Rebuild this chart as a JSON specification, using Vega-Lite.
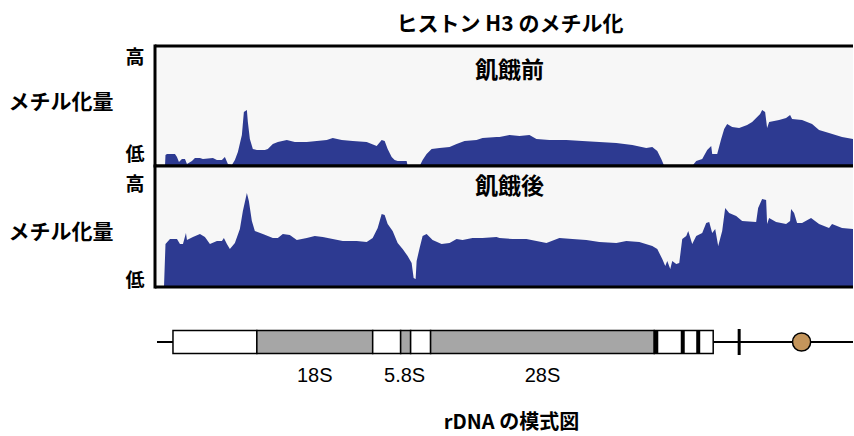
{
  "$schema": "https://vega.github.io/schema/vega-lite/v6.json",
  "background": "white",
  "padding": {"left": 8, "top": 13, "right": 0, "bottom": 6},
  "spacing": 0,
  "bounds": "flush",
  "config": {"view": {"stroke": null}},
  "title": {"text": "ヒストン H3 のメチル化", "font": "Noto Sans CJK JP", "fontSize": 21, "fontWeight": "bold", "color": "black", "anchor": "middle", "frame": "group", "offset": 9, "dx": 6},
  "datasets": {
    "before": [
      {"pos":10,"h":0},{"pos":10.5,"h":11},{"pos":12,"h":12},{"pos":20,"h":12},{"pos":22,"h":9},{"pos":24,"h":4},{"pos":27,"h":7},{"pos":30,"h":7},{"pos":32,"h":2},{"pos":37,"h":5},{"pos":40,"h":8},{"pos":45,"h":8},{"pos":48,"h":7},{"pos":58,"h":8},{"pos":62,"h":6},{"pos":67,"h":6},{"pos":70,"h":9},{"pos":73,"h":2},{"pos":77,"h":1},{"pos":80,"h":6},{"pos":83,"h":14},{"pos":87,"h":31},{"pos":89,"h":54},{"pos":92,"h":56},{"pos":93,"h":44},{"pos":95,"h":27},{"pos":98,"h":17},{"pos":102,"h":16},{"pos":110,"h":16},{"pos":113,"h":17},{"pos":118,"h":22},{"pos":123,"h":24},{"pos":132,"h":26},{"pos":140,"h":24},{"pos":152,"h":24},{"pos":162,"h":25},{"pos":172,"h":26},{"pos":178,"h":28},{"pos":187,"h":26},{"pos":198,"h":25},{"pos":212,"h":24},{"pos":222,"h":20},{"pos":227,"h":26},{"pos":230,"h":25},{"pos":233,"h":17},{"pos":237,"h":9},{"pos":240,"h":6},{"pos":243,"h":5},{"pos":252,"h":5},{"pos":253,"h":0},{"pos":265,"h":0},{"pos":268,"h":6},{"pos":272,"h":12},{"pos":277,"h":17},{"pos":285,"h":18},{"pos":295,"h":19},{"pos":302,"h":22},{"pos":310,"h":25},{"pos":322,"h":26},{"pos":328,"h":28},{"pos":342,"h":29},{"pos":345,"h":29},{"pos":355,"h":31},{"pos":365,"h":30},{"pos":375,"h":31},{"pos":382,"h":27},{"pos":395,"h":26},{"pos":412,"h":26},{"pos":428,"h":25},{"pos":445,"h":24},{"pos":462,"h":23},{"pos":478,"h":21},{"pos":492,"h":18},{"pos":498,"h":19},{"pos":503,"h":15},{"pos":507,"h":7},{"pos":510,"h":0},{"pos":538,"h":0},{"pos":542,"h":5},{"pos":548,"h":7},{"pos":553,"h":16},{"pos":557,"h":20},{"pos":558,"h":12},{"pos":563,"h":12},{"pos":567,"h":27},{"pos":570,"h":37},{"pos":573,"h":42},{"pos":578,"h":39},{"pos":585,"h":38},{"pos":593,"h":41},{"pos":598,"h":44},{"pos":603,"h":49},{"pos":606,"h":52},{"pos":608,"h":56},{"pos":611,"h":54},{"pos":613,"h":38},{"pos":615,"h":44},{"pos":625,"h":46},{"pos":632,"h":48},{"pos":636,"h":51},{"pos":638,"h":47},{"pos":648,"h":46},{"pos":658,"h":42},{"pos":665,"h":36},{"pos":675,"h":33},{"pos":688,"h":29},{"pos":699,"h":27}
    ],
    "after": [
      {"pos":9,"h":0},{"pos":10.5,"h":43},{"pos":15,"h":48},{"pos":22,"h":48},{"pos":25,"h":43},{"pos":28,"h":43},{"pos":31,"h":54},{"pos":32,"h":47},{"pos":38,"h":50},{"pos":45,"h":53},{"pos":50,"h":50},{"pos":55,"h":43},{"pos":62,"h":46},{"pos":67,"h":46},{"pos":69,"h":49},{"pos":72,"h":43},{"pos":75,"h":38},{"pos":80,"h":44},{"pos":85,"h":58},{"pos":88,"h":76},{"pos":92,"h":94},{"pos":94,"h":86},{"pos":97,"h":66},{"pos":100,"h":56},{"pos":108,"h":53},{"pos":118,"h":49},{"pos":123,"h":49},{"pos":128,"h":53},{"pos":135,"h":52},{"pos":142,"h":47},{"pos":152,"h":49},{"pos":160,"h":51},{"pos":168,"h":50},{"pos":178,"h":48},{"pos":188,"h":46},{"pos":202,"h":46},{"pos":212,"h":45},{"pos":218,"h":49},{"pos":223,"h":59},{"pos":227,"h":73},{"pos":230,"h":72},{"pos":233,"h":63},{"pos":238,"h":56},{"pos":243,"h":44},{"pos":248,"h":38},{"pos":253,"h":31},{"pos":257,"h":24},{"pos":259,"h":9},{"pos":261,"h":8},{"pos":262,"h":26},{"pos":265,"h":39},{"pos":268,"h":51},{"pos":272,"h":53},{"pos":278,"h":47},{"pos":287,"h":43},{"pos":295,"h":44},{"pos":302,"h":48},{"pos":308,"h":47},{"pos":318,"h":49},{"pos":328,"h":49},{"pos":342,"h":50},{"pos":345,"h":49},{"pos":358,"h":48},{"pos":372,"h":48},{"pos":382,"h":46},{"pos":392,"h":44},{"pos":405,"h":49},{"pos":418,"h":48},{"pos":432,"h":47},{"pos":445,"h":45},{"pos":462,"h":44},{"pos":472,"h":46},{"pos":485,"h":45},{"pos":498,"h":41},{"pos":503,"h":38},{"pos":508,"h":28},{"pos":511,"h":21},{"pos":513,"h":26},{"pos":516,"h":18},{"pos":518,"h":26},{"pos":522,"h":23},{"pos":525,"h":24},{"pos":528,"h":48},{"pos":532,"h":51},{"pos":534,"h":56},{"pos":538,"h":43},{"pos":542,"h":51},{"pos":548,"h":54},{"pos":552,"h":64},{"pos":555,"h":65},{"pos":558,"h":54},{"pos":561,"h":58},{"pos":564,"h":41},{"pos":568,"h":56},{"pos":571,"h":79},{"pos":575,"h":74},{"pos":582,"h":71},{"pos":588,"h":66},{"pos":602,"h":65},{"pos":604,"h":79},{"pos":608,"h":88},{"pos":612,"h":87},{"pos":613,"h":63},{"pos":615,"h":69},{"pos":622,"h":65},{"pos":632,"h":63},{"pos":636,"h":66},{"pos":637,"h":78},{"pos":640,"h":74},{"pos":643,"h":64},{"pos":648,"h":64},{"pos":657,"h":69},{"pos":665,"h":63},{"pos":675,"h":59},{"pos":678,"h":63},{"pos":688,"h":59},{"pos":699,"h":58}
    ],
    "segments": [
      {"start":18,"end":102,"type":"spacer"},
      {"start":102,"end":218,"type":"rRNA"},
      {"start":218,"end":246,"type":"spacer"},
      {"start":246,"end":256,"type":"rRNA"},
      {"start":256,"end":276,"type":"spacer"},
      {"start":276,"end":500,"type":"rRNA"},
      {"start":500,"end":559,"type":"spacer"}
    ],
    "bars": [{"pos":502},{"pos":528.5},{"pos":544}],
    "genes": [{"pos":160,"name":"18S"},{"pos":250,"name":"5.8S"},{"pos":388,"name":"28S"}]
  },
  "vconcat": [
    {
      "width": 698, "height": 120,
      "view": {"fill": "#f7f7f7"},
      "layer": [
        {
          "data": {"name": "before"},
          "mark": {"type": "area", "color": "#2d3a91", "interpolate": "linear"},
          "encoding": {
            "x": {"field": "pos", "type": "quantitative", "scale": {"domain": [0, 699], "nice": false}, "axis": null},
            "y": {"field": "h", "type": "quantitative", "scale": {"domain": [0, 120], "nice": false},
              "axis": {"values": [12, 109], "labelExpr": "datum.value > 60 ? '高' : '低'", "domain": false, "ticks": false, "grid": false,
                "labelFont": "Noto Sans CJK JP", "labelFontWeight": "bold", "labelFontSize": 19, "labelColor": "black", "labelPadding": 11, "labelBaseline": "middle",
                "title": "メチル化量", "titleAngle": 0, "titleAlign": "right", "titleBaseline": "middle", "titleX": -42, "titleY": 56,
                "titleFont": "Noto Sans CJK JP", "titleFontSize": 21, "titleFontWeight": "bold", "titleColor": "black"}}
          }
        },
        {
          "data": {"values": [{"label": "飢餓前"}]},
          "mark": {"type": "text", "font": "Noto Sans CJK JP", "fontSize": 23, "fontWeight": "bold", "color": "black", "baseline": "middle"},
          "encoding": {"x": {"datum": 355}, "y": {"datum": 95}, "text": {"field": "label"}}
        },
        {
          "data": {"values": [{"v": 0}, {"v": 120}]},
          "mark": {"type": "rule", "strokeWidth": 3, "color": "black"},
          "encoding": {"y": {"field": "v", "type": "quantitative"}}
        },
        {
          "data": {"values": [{"v": 0}]},
          "mark": {"type": "rule", "strokeWidth": 3, "color": "black", "strokeCap": "square"},
          "encoding": {"x": {"field": "v", "type": "quantitative"}}
        }
      ]
    },
    {
      "width": 698, "height": 121,
      "view": {"fill": "#f7f7f7"},
      "layer": [
        {
          "data": {"name": "after"},
          "mark": {"type": "area", "color": "#2d3a91", "interpolate": "linear"},
          "encoding": {
            "x": {"field": "pos", "type": "quantitative", "scale": {"domain": [0, 699], "nice": false}, "axis": null},
            "y": {"field": "h", "type": "quantitative", "scale": {"domain": [0, 121], "nice": false},
              "axis": {"values": [7, 103], "labelExpr": "datum.value > 60 ? '高' : '低'", "domain": false, "ticks": false, "grid": false,
                "labelFont": "Noto Sans CJK JP", "labelFontWeight": "bold", "labelFontSize": 19, "labelColor": "black", "labelPadding": 11, "labelBaseline": "middle",
                "title": "メチル化量", "titleAngle": 0, "titleAlign": "right", "titleBaseline": "middle", "titleX": -42, "titleY": 66,
                "titleFont": "Noto Sans CJK JP", "titleFontSize": 21, "titleFontWeight": "bold", "titleColor": "black"}}
          }
        },
        {
          "data": {"values": [{"label": "飢餓後"}]},
          "mark": {"type": "text", "font": "Noto Sans CJK JP", "fontSize": 23, "fontWeight": "bold", "color": "black", "baseline": "middle"},
          "encoding": {"x": {"datum": 355}, "y": {"datum": 100}, "text": {"field": "label"}}
        },
        {
          "data": {"values": [{"v": 0}, {"v": 121}]},
          "mark": {"type": "rule", "strokeWidth": 3, "color": "black"},
          "encoding": {"y": {"field": "v", "type": "quantitative"}}
        },
        {
          "data": {"values": [{"v": 0}]},
          "mark": {"type": "rule", "strokeWidth": 3, "color": "black", "strokeCap": "square"},
          "encoding": {"x": {"field": "v", "type": "quantitative"}}
        }
      ]
    },
    {
      "width": 698, "height": 109,
      "layer": [
        {
          "data": {"values": [{"a": 2, "b": 699}]},
          "mark": {"type": "rule", "strokeWidth": 2, "color": "black"},
          "encoding": {
            "x": {"field": "a", "type": "quantitative", "scale": {"domain": [0, 699], "nice": false},
              "axis": {"labels": false, "ticks": false, "domain": false, "grid": false, "title": "rDNA の模式図",
                "titleFont": "Noto Sans CJK JP", "titleFontSize": 20, "titleFontWeight": "bold", "titleColor": "black",
                "titleX": 356, "titleY": 26, "titleBaseline": "middle"}},
            "x2": {"field": "b"},
            "y": {"datum": 0, "type": "quantitative", "scale": {"domain": [-54, 55], "nice": false}, "axis": null}
          }
        },
        {
          "data": {"name": "segments"},
          "mark": {"type": "rect", "stroke": "black", "strokeWidth": 1.5},
          "encoding": {
            "x": {"field": "start", "type": "quantitative"},
            "x2": {"field": "end"},
            "y": {"datum": 11.5},
            "y2": {"datum": -11.5},
            "fill": {"field": "type", "type": "nominal", "scale": {"domain": ["spacer", "rRNA"], "range": ["white", "#a6a6a6"]}, "legend": null}
          }
        },
        {
          "data": {"name": "bars"},
          "mark": {"type": "rule", "strokeWidth": 4, "color": "black"},
          "encoding": {
            "x": {"field": "pos", "type": "quantitative"},
            "y": {"datum": 12},
            "y2": {"datum": -12}
          }
        },
        {
          "data": {"values": [{"pos": 585}]},
          "mark": {"type": "rule", "strokeWidth": 3, "color": "black"},
          "encoding": {
            "x": {"field": "pos", "type": "quantitative"},
            "y": {"datum": 13},
            "y2": {"datum": -13}
          }
        },
        {
          "data": {"values": [{"pos": 647.5}]},
          "mark": {"type": "point", "shape": "circle", "filled": true, "size": 330, "fill": "#c4955b", "stroke": "black", "strokeWidth": 1.5, "opacity": 1},
          "encoding": {
            "x": {"field": "pos", "type": "quantitative"},
            "y": {"datum": 0}
          }
        },
        {
          "data": {"name": "genes"},
          "mark": {"type": "text", "font": "Liberation Sans", "fontSize": 20, "color": "black", "baseline": "middle"},
          "encoding": {
            "x": {"field": "pos", "type": "quantitative"},
            "y": {"datum": -34},
            "text": {"field": "name"}
          }
        }
      ]
    }
  ]
}
